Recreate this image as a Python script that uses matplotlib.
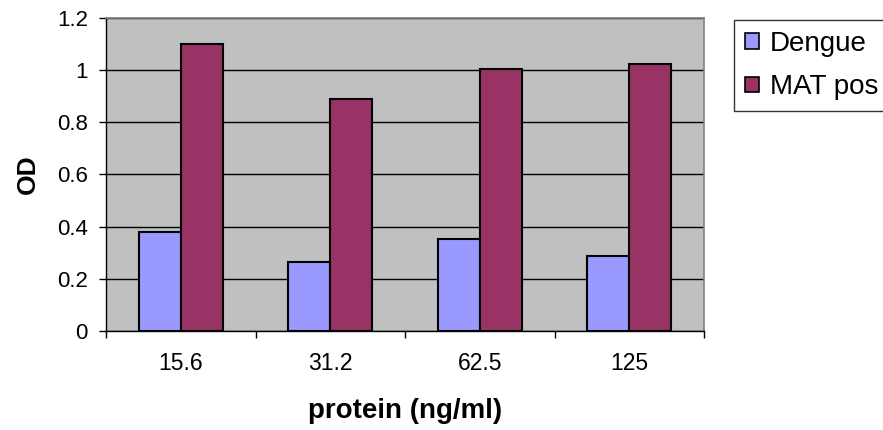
import matplotlib
matplotlib.use("Agg")
import matplotlib.pyplot as plt
import numpy as np

categories = ["15.6", "31.2", "62.5", "125"]
dengue = [0.378, 0.263, 0.353, 0.288]
mat_pos = [1.099, 0.891, 1.006, 1.025]
series_names = ["Dengue", "MAT pos"]
y_ticks = [0, 0.2, 0.4, 0.6, 0.8, 1.0, 1.2]
y_tick_labels = ["0", "0.2", "0.4", "0.6", "0.8", "1", "1.2"]

plt.rcParams['font.family'] = ['Liberation Sans', 'DejaVu Sans']

fig = plt.figure(figsize=(8.83, 4.30), dpi=100)
ax = fig.add_axes([106/883, 1-331/430, (704-106)/883, (331-18)/430])
ax.set_facecolor("#C0C0C0")

x = np.arange(len(categories))
w = 0.28
b1 = ax.bar(x - w/2, dengue, w, color="#9999FF", edgecolor="black", linewidth=1.5, label=series_names[0], zorder=3)
b2 = ax.bar(x + w/2, mat_pos, w, color="#993366", edgecolor="black", linewidth=1.5, label=series_names[1], zorder=3)

ax.set_xlim(-0.5, len(categories) - 0.5)
ax.set_ylim(0, 1.2)
ax.set_yticks(y_ticks)
ax.set_yticklabels(y_tick_labels, fontsize=16)
ax.yaxis.grid(True, color="black", linewidth=1, zorder=1)
ax.set_axisbelow(True)

ax.set_xticks(np.arange(len(categories) + 1) - 0.5)
ax.set_xticklabels([])
ax.set_xticks(x, minor=True)
ax.set_xticklabels(categories, minor=True, fontsize=16.5)
ax.tick_params(axis='x', which='minor', length=0, pad=15)
ax.tick_params(axis='x', which='major', length=5, width=1, direction='out')
ax.tick_params(axis='y', length=5, width=1, direction='out', pad=8)

for s in ["top", "right"]:
    ax.spines[s].set_color("#808080")
    ax.spines[s].set_linewidth(1.2)
for s in ["left", "bottom"]:
    ax.spines[s].set_color("black")
    ax.spines[s].set_linewidth(1)

ax.set_ylabel("OD", fontsize=19, fontweight="bold", labelpad=12)
ax.set_xlabel("protein (ng/ml)", fontsize=20, fontweight="bold", labelpad=17)

leg = fig.legend(handles=[b1, b2], loc="upper left", bbox_to_anchor=(734/883, 1-20/430),
                 frameon=True, fancybox=False, fontsize=20, handlelength=0.5, handleheight=0.5,
                 handletextpad=0.4, borderpad=0.4, labelspacing=0.62, borderaxespad=0)
leg.get_frame().set_edgecolor("black")
leg.get_frame().set_linewidth(1)
for h in leg.legend_handles:
    h.set_linewidth(1.2)

fig.savefig("out.png", dpi=100)
